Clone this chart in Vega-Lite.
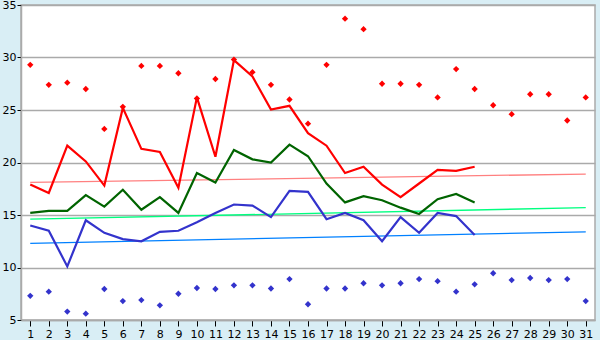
{
  "$schema": "https://vega.github.io/schema/vega-lite/v6.json",
  "width": 574,
  "height": 315,
  "autosize": {"type": "none"},
  "padding": {"left": 21, "top": 5, "right": 5, "bottom": 20},
  "background": "#d9eef5",
  "config": {
    "view": {"fill": "white", "stroke": "#aaaaaa", "strokeWidth": 1.5},
    "font": "DejaVu Sans"
  },
  "datasets": {
    "daily": [
      {"day": 1, "max": 17.9, "mean": 15.2, "min": 14.0, "recmax": 29.3, "recmin": 7.3},
      {"day": 2, "max": 17.1, "mean": 15.4, "min": 13.5, "recmax": 27.4, "recmin": 7.7},
      {"day": 3, "max": 21.6, "mean": 15.4, "min": 10.1, "recmax": 27.6, "recmin": 5.8},
      {"day": 4, "max": 20.1, "mean": 16.9, "min": 14.5, "recmax": 27.0, "recmin": 5.6},
      {"day": 5, "max": 17.8, "mean": 15.8, "min": 13.3, "recmax": 23.2, "recmin": 7.95},
      {"day": 6, "max": 25.2, "mean": 17.4, "min": 12.7, "recmax": 25.3, "recmin": 6.8},
      {"day": 7, "max": 21.3, "mean": 15.5, "min": 12.5, "recmax": 29.2, "recmin": 6.9},
      {"day": 8, "max": 21.0, "mean": 16.7, "min": 13.4, "recmax": 29.2, "recmin": 6.4},
      {"day": 9, "max": 17.6, "mean": 15.2, "min": 13.5, "recmax": 28.5, "recmin": 7.5},
      {"day": 10, "max": 26.2, "mean": 19.0, "min": 14.3, "recmax": 26.1, "recmin": 8.05},
      {"day": 11, "max": 20.55, "mean": 18.1, "min": 15.2, "recmax": 27.95, "recmin": 7.95},
      {"day": 12, "max": 29.75, "mean": 21.2, "min": 16.0, "recmax": 29.8, "recmin": 8.3},
      {"day": 13, "max": 28.2, "mean": 20.3, "min": 15.9, "recmax": 28.6, "recmin": 8.3},
      {"day": 14, "max": 25.05, "mean": 20.0, "min": 14.8, "recmax": 27.4, "recmin": 8.0},
      {"day": 15, "max": 25.4, "mean": 21.7, "min": 17.3, "recmax": 26.0, "recmin": 8.9},
      {"day": 16, "max": 22.8, "mean": 20.6, "min": 17.2, "recmax": 23.7, "recmin": 6.5},
      {"day": 17, "max": 21.6, "mean": 18.0, "min": 14.6, "recmax": 29.3, "recmin": 8.0},
      {"day": 18, "max": 19.0, "mean": 16.2, "min": 15.2, "recmax": 33.7, "recmin": 8.0},
      {"day": 19, "max": 19.6, "mean": 16.8, "min": 14.5, "recmax": 32.7, "recmin": 8.5},
      {"day": 20, "max": 17.9, "mean": 16.4, "min": 12.5, "recmax": 27.5, "recmin": 8.3},
      {"day": 21, "max": 16.7, "mean": 15.7, "min": 14.8, "recmax": 27.5, "recmin": 8.5},
      {"day": 22, "max": 18.0, "mean": 15.1, "min": 13.3, "recmax": 27.4, "recmin": 8.9},
      {"day": 23, "max": 19.3, "mean": 16.5, "min": 15.2, "recmax": 26.2, "recmin": 8.7},
      {"day": 24, "max": 19.2, "mean": 17.0, "min": 14.9, "recmax": 28.9, "recmin": 7.7},
      {"day": 25, "max": 19.6, "mean": 16.2, "min": 13.1, "recmax": 27.0, "recmin": 8.4},
      {"day": 26, "max": null, "mean": null, "min": null, "recmax": 25.45, "recmin": 9.45},
      {"day": 27, "max": null, "mean": null, "min": null, "recmax": 24.6, "recmin": 8.8},
      {"day": 28, "max": null, "mean": null, "min": null, "recmax": 26.5, "recmin": 9.0},
      {"day": 29, "max": null, "mean": null, "min": null, "recmax": 26.5, "recmin": 8.8},
      {"day": 30, "max": null, "mean": null, "min": null, "recmax": 24.0, "recmin": 8.9},
      {"day": 31, "max": null, "mean": null, "min": null, "recmax": 26.2, "recmin": 6.8}
    ],
    "normals": [
      {"day": 1, "series": "max", "value": 18.1},
      {"day": 31, "series": "max", "value": 18.9},
      {"day": 1, "series": "mean", "value": 14.6},
      {"day": 31, "series": "mean", "value": 15.7},
      {"day": 1, "series": "min", "value": 12.3},
      {"day": 31, "series": "min", "value": 13.4}
    ]
  },
  "encoding": {
    "x": {
      "field": "day", "type": "quantitative",
      "scale": {"domain": [0.5, 31.5], "nice": false, "zero": false},
      "axis": {
        "title": null, "values": [1,2,3,4,5,6,7,8,9,10,11,12,13,14,15,16,17,18,19,20,21,22,23,24,25,26,27,28,29,30,31],
        "grid": false, "domainColor": "#aaaaaa", "domainWidth": 1.5,
        "tickColor": "#000000", "tickSize": 6, "labelFontSize": 11, "labelColor": "#000000",
        "labelPadding": 2, "labelFlush": false, "labelOverlap": false, "format": "d"
      }
    }
  },
  "layer": [
    {
      "data": {"name": "normals"},
      "mark": {"type": "line", "strokeWidth": 1.3},
      "encoding": {
        "y": {
          "field": "value", "type": "quantitative",
          "scale": {"domain": [5, 35], "nice": false, "zero": false},
          "axis": {
            "title": null, "values": [5, 10, 15, 20, 25, 30, 35],
            "gridColor": "#aaaaaa", "gridWidth": 1.5, "domainColor": "#aaaaaa", "domainWidth": 1.5,
            "tickColor": "#000000", "tickSize": 4, "labelFontSize": 11, "labelColor": "#000000",
            "labelPadding": 1, "labelFlush": false
          }
        },
        "color": {
          "field": "series", "type": "nominal",
          "scale": {"domain": ["max", "mean", "min"], "range": ["#ff8080", "#00ff80", "#0080ff"]},
          "legend": null
        }
      }
    },
    {
      "data": {"name": "daily"},
      "mark": {"type": "line", "color": "#ff0000", "strokeWidth": 2.2},
      "encoding": {"y": {"field": "max", "type": "quantitative"}}
    },
    {
      "data": {"name": "daily"},
      "mark": {"type": "line", "color": "#006400", "strokeWidth": 2.2},
      "encoding": {"y": {"field": "mean", "type": "quantitative"}}
    },
    {
      "data": {"name": "daily"},
      "mark": {"type": "line", "color": "#3333cc", "strokeWidth": 2.2},
      "encoding": {"y": {"field": "min", "type": "quantitative"}}
    },
    {
      "data": {"name": "daily"},
      "mark": {"type": "point", "shape": "diamond", "filled": true, "color": "#ff0000", "size": 40, "opacity": 1},
      "encoding": {"y": {"field": "recmax", "type": "quantitative"}}
    },
    {
      "data": {"name": "daily"},
      "mark": {"type": "point", "shape": "diamond", "filled": true, "color": "#3333cc", "size": 40, "opacity": 1},
      "encoding": {"y": {"field": "recmin", "type": "quantitative"}}
    }
  ]
}
